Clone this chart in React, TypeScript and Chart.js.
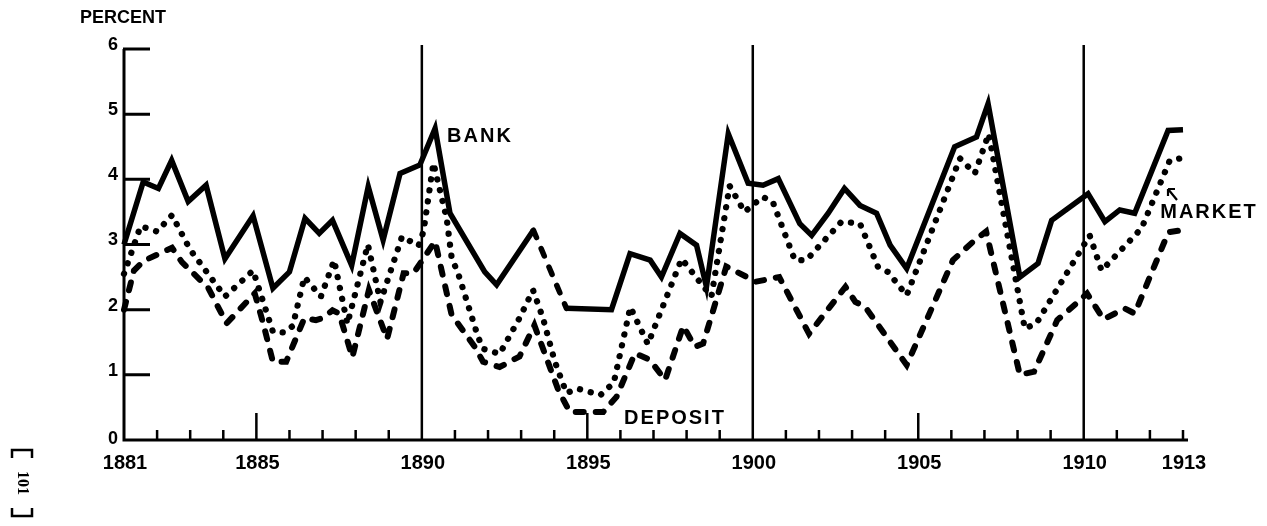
import React, { useEffect, useRef } from "react";
import { Chart, registerables } from "chart.js";

Chart.register(...registerables);

// ---- Data ----
const bankYears = [
  1881.0, 1881.58, 1882.04, 1882.44, 1882.94, 1883.48, 1884.05, 1884.9, 1885.5, 1886.0,
  1886.47, 1886.9, 1887.3, 1887.88, 1888.38, 1888.83, 1889.34, 1889.94, 1890.4, 1890.85,
  1891.9, 1892.26, 1893.37, 1894.37, 1895.73, 1896.29, 1896.9, 1897.24, 1897.8, 1898.3,
  1898.6, 1899.26, 1899.86, 1900.31, 1900.77, 1901.42, 1901.78, 1902.28, 1902.77, 1903.24,
  1903.74, 1904.15, 1904.65, 1906.1, 1906.76, 1907.11, 1908.07, 1908.62, 1909.03, 1910.13,
  1910.64, 1911.09, 1911.54, 1912.55, 1913.0,
];
const bankRates = [
  3.0, 3.96, 3.86, 4.29, 3.66, 3.91, 2.78, 3.44, 2.33, 2.58,
  3.4, 3.17, 3.37, 2.68, 3.89, 3.07, 4.09, 4.22, 4.78, 3.48,
  2.58, 2.38, 3.22, 2.02, 2.0, 2.86, 2.76, 2.5, 3.17, 2.99,
  2.35, 4.7, 3.94, 3.91, 4.01, 3.32, 3.14, 3.48, 3.86, 3.6,
  3.48, 2.99, 2.63, 4.5, 4.65, 5.16, 2.5, 2.71, 3.37, 3.78,
  3.35, 3.53, 3.48, 4.75, 4.76,
];
// bank segment drawn dashed in the original (1893-1894)
const bankDashedFrom = 1893.37;
const bankDashedTo = 1894.37;

const marketYears = [
  1881.0, 1881.5, 1882.0, 1882.45, 1883.0, 1884.05, 1884.9, 1885.5, 1885.85, 1886.1,
  1886.45, 1886.95, 1887.35, 1887.75, 1888.37, 1888.75, 1889.4, 1889.9, 1890.05, 1890.35,
  1890.75, 1890.9, 1891.1, 1891.7, 1891.85, 1892.35, 1892.95, 1893.36, 1893.66, 1894.02,
  1894.37, 1894.7, 1895.05, 1895.4, 1895.8, 1896.3, 1896.83, 1897.85, 1898.75, 1899.3,
  1899.75, 1900.3, 1900.6, 1901.27, 1901.62, 1902.68, 1903.24, 1903.78, 1904.08, 1904.65,
  1906.26, 1906.71, 1907.13, 1908.22, 1908.57, 1910.18, 1910.54, 1911.75, 1912.6, 1913.0,
];
const marketRates = [
  2.55, 3.28, 3.2, 3.45, 2.92, 2.2, 2.6, 1.66, 1.65, 1.75,
  2.5, 2.2, 2.76, 1.78, 3.0, 2.12, 3.12, 2.98, 3.2, 4.25,
  3.4, 2.8, 2.55, 1.58, 1.4, 1.32, 1.87, 2.3, 1.87, 1.2,
  0.72, 0.79, 0.74, 0.69, 0.88, 2.04, 1.47, 2.78, 2.2, 3.9,
  3.5, 3.73, 3.66, 2.76, 2.76, 3.35, 3.32, 2.66, 2.58, 2.22,
  4.32, 4.09, 4.7, 1.71, 1.79, 3.14, 2.6, 3.25, 4.29, 4.33,
];

const depositYears = [
  1881.0, 1881.3, 1881.6, 1882.45, 1882.75, 1883.55, 1884.1, 1884.95, 1885.2, 1885.5,
  1885.9, 1886.45, 1886.8, 1887.0, 1887.3, 1887.5, 1887.9, 1888.4, 1888.95, 1889.45,
  1889.75, 1890.4, 1890.9, 1891.6, 1891.85, 1892.35, 1892.95, 1893.4, 1894.12, 1894.47,
  1895.48, 1895.88, 1896.44, 1896.89, 1897.35, 1897.9, 1898.25, 1898.5, 1899.2, 1900.1,
  1900.8, 1901.7, 1902.8, 1903.1, 1903.4, 1904.65, 1906.05, 1906.65, 1907.05, 1908.07,
  1908.5, 1909.2, 1909.83, 1910.1, 1910.6, 1911.24, 1911.54, 1912.56, 1913.0,
];
const depositRates = [
  2.0, 2.6, 2.75, 2.95, 2.73, 2.33, 1.79, 2.25, 1.8, 1.2,
  1.2, 1.87, 1.84, 1.87, 1.99, 1.94, 1.27, 2.3, 1.55, 2.56,
  2.56, 3.05, 1.92, 1.43, 1.2, 1.12, 1.28, 1.76, 0.77, 0.43,
  0.43, 0.66, 1.33, 1.23, 0.92, 1.75, 1.43, 1.48, 2.66, 2.43,
  2.5, 1.63, 2.35, 2.12, 2.04, 1.15, 2.76, 3.04, 3.2, 1.0,
  1.05, 1.84, 2.12, 2.25, 1.85, 2.02, 1.94, 3.19, 3.22,
];

const yearTicks = [
  1881, 1882, 1883, 1884, 1885, 1886, 1887, 1888, 1889, 1890, 1891,
  1892, 1893, 1894, 1895, 1896, 1897, 1898, 1899, 1900, 1901, 1902,
  1903, 1904, 1905, 1906, 1907, 1908, 1909, 1910, 1911, 1912, 1913,
];
const labeledYears = [1881, 1885, 1890, 1895, 1900, 1905, 1910, 1913];
const longTickYears = [1885, 1895, 1905];
const dividerYears = [1890, 1900, 1910];
const percentTicks = [0, 1, 2, 3, 4, 5, 6];

const FONT = "'Liberation Sans', Arial, sans-serif";

const toPoints = (xs: number[], ys: number[]) => xs.map((x, i) => ({ x, y: ys[i] }));

const framePlugin = {
  id: "frame",
  beforeDatasetsDraw(chart: any) {
    const { ctx } = chart;
    const xs = chart.scales.x;
    const ys = chart.scales.y;
    const x0 = xs.getPixelForValue(yearTicks[0]);
    const x1 = xs.getPixelForValue(yearTicks[yearTicks.length - 1]);
    const y0 = ys.getPixelForValue(0);
    const yTop = ys.getPixelForValue(percentTicks[percentTicks.length - 1]);
    ctx.save();
    ctx.strokeStyle = "#000";
    ctx.fillStyle = "#000";
    ctx.lineCap = "butt";
    // axes
    ctx.lineWidth = 3;
    ctx.beginPath();
    ctx.moveTo(x0, yTop);
    ctx.lineTo(x0, y0);
    ctx.lineTo(x1 + 5, y0);
    ctx.stroke();
    // y ticks (inward)
    ctx.beginPath();
    for (const v of percentTicks) {
      if (v === 0) continue;
      const py = ys.getPixelForValue(v);
      ctx.moveTo(x0 - 1, py);
      ctx.lineTo(x0 + 26, py);
    }
    ctx.stroke();
    // x ticks (inward)
    ctx.lineWidth = 2.5;
    ctx.beginPath();
    for (const yr of yearTicks) {
      if (yr === yearTicks[0] || dividerYears.includes(yr)) continue;
      const px = xs.getPixelForValue(yr);
      const len = longTickYears.includes(yr) ? 27 : 10;
      ctx.moveTo(px, y0);
      ctx.lineTo(px, y0 - len);
    }
    ctx.stroke();
    // divider lines
    ctx.lineWidth = 2.5;
    ctx.beginPath();
    for (const yr of dividerYears) {
      const px = xs.getPixelForValue(yr);
      ctx.moveTo(px, y0);
      ctx.lineTo(px, ys.getPixelForValue(6.06));
    }
    ctx.stroke();
    // y labels
    ctx.font = `bold 18px ${FONT}`;
    ctx.textAlign = "right";
    ctx.textBaseline = "middle";
    for (const v of percentTicks) {
      const py = ys.getPixelForValue(v);
      ctx.fillText(String(v), x0 - 6, py - (v === 0 ? 1 : 4));
    }
    // x labels
    ctx.font = `bold 20px ${FONT}`;
    ctx.textAlign = "center";
    ctx.textBaseline = "middle";
    for (const yr of labeledYears) {
      ctx.fillText(String(yr), xs.getPixelForValue(yr) + 1, y0 + 23);
    }
    // axis title
    ctx.font = `bold 18px ${FONT}`;
    ctx.textAlign = "center";
    ctx.fillText("PERCENT", 123, 18);
    ctx.restore();
  },
  afterDatasetsDraw(chart: any) {
    const { ctx } = chart;
    ctx.save();
    ctx.fillStyle = "#000";
    ctx.strokeStyle = "#000";
    ctx.font = `bold 20px ${FONT}`;
    (ctx as any).letterSpacing = "2px";
    ctx.textAlign = "center";
    ctx.textBaseline = "middle";
    ctx.fillText("BANK", 480, 136);
    ctx.fillText("DEPOSIT", 675, 418);
    ctx.fillText("MARKET", 1209, 212);
    (ctx as any).letterSpacing = "0px";
    // arrow pointing to market line
    ctx.lineWidth = 2.2;
    ctx.beginPath();
    ctx.moveTo(1177, 200);
    ctx.lineTo(1168, 189);
    ctx.moveTo(1168, 189);
    ctx.lineTo(1168, 196);
    ctx.moveTo(1168, 189);
    ctx.lineTo(1175, 189);
    ctx.stroke();
    // page number with brackets, rotated
    ctx.lineWidth = 2.5;
    ctx.beginPath();
    ctx.moveTo(12, 458);
    ctx.lineTo(12, 450);
    ctx.lineTo(32, 450);
    ctx.lineTo(32, 458);
    ctx.moveTo(12, 508);
    ctx.lineTo(12, 516);
    ctx.lineTo(32, 516);
    ctx.lineTo(32, 508);
    ctx.stroke();
    ctx.translate(22, 483);
    ctx.rotate(Math.PI / 2);
    ctx.font = `bold 16px 'Liberation Serif', serif`;
    ctx.textAlign = "center";
    ctx.textBaseline = "middle";
    ctx.fillText("101", 0, 0);
    ctx.restore();
  },
};

export default function App() {
  const canvasRef = useRef<HTMLCanvasElement | null>(null);

  useEffect(() => {
    const canvas = canvasRef.current;
    if (!canvas) return;
    const chart = new Chart(canvas, {
      type: "line",
      data: {
        datasets: [
          {
            label: "Bank",
            data: toPoints(bankYears, bankRates),
            borderColor: "#000",
            borderWidth: 5.5,
            borderJoinStyle: "miter",
            pointRadius: 0,
            tension: 0,
            clip: false,
            segment: {
              borderDash: (c: any) =>
                c.p0.parsed.x >= bankDashedFrom && c.p1.parsed.x <= bankDashedTo ? [8, 12] : undefined,
              borderCapStyle: (c: any) =>
                c.p0.parsed.x >= bankDashedFrom && c.p1.parsed.x <= bankDashedTo ? "round" : undefined,
            },
          } as any,
          {
            label: "Market",
            data: toPoints(marketYears, marketRates),
            borderColor: "#000",
            borderWidth: 6.3,
            borderDash: [0.1, 11],
            borderCapStyle: "round",
            pointRadius: 0,
            tension: 0,
            clip: false,
          } as any,
          {
            label: "Deposit",
            data: toPoints(depositYears, depositRates),
            borderColor: "#000",
            borderWidth: 6,
            borderDash: [8, 12],
            borderCapStyle: "round",
            pointRadius: 0,
            tension: 0,
            clip: false,
          } as any,
        ],
      },
      options: {
        responsive: false,
        animation: false,
        events: [],
        layout: { padding: { left: 124, right: 84, top: 49, bottom: 86 } },
        scales: {
          x: { type: "linear", min: 1881, max: 1913, display: false },
          y: { type: "linear", min: 0, max: 6, display: false },
        },
        plugins: {
          legend: { display: false },
          tooltip: { enabled: false },
        },
      },
      plugins: [framePlugin],
    });
    return () => chart.destroy();
  }, []);

  return (
    <div style={{ position: "fixed", left: 0, top: 0, width: 1267, height: 526, background: "#fff" }}>
      <canvas ref={canvasRef} width={1267} height={526} style={{ display: "block" }} />
    </div>
  );
}
